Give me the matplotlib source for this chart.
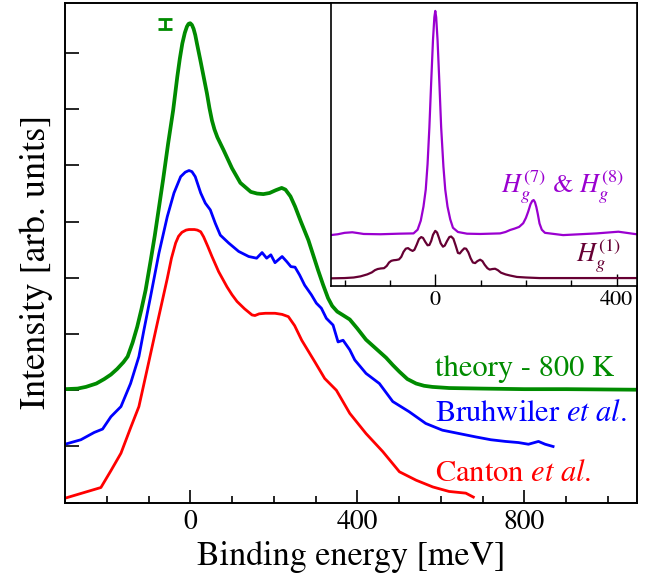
import matplotlib
matplotlib.use("Agg")
import matplotlib.pyplot as plt
from matplotlib.ticker import MultipleLocator, FixedLocator, NullFormatter

plt.rcParams['font.family'] = ['STIXGeneral', 'Liberation Serif', 'DejaVu Serif']
plt.rcParams['mathtext.fontset'] = 'stix'

# ---------------- main panel data (meV, arb. units) ----------------
theory_x = [-300, -270, -250, -225, -206, -190, -175, -160, -150, -138, -127, -117, -107, -95,
            -85, -77, -65, -53, -41, -31, -25, -19, -13, -8, -4, 0, 4, 8, 12, 16, 24, 32, 40,
            46, 52, 58, 65, 80, 100, 120, 145, 160, 175, 190, 205, 219, 228, 240, 251, 265,
            283, 306, 318, 330, 340, 352, 365, 382, 400, 421, 445, 469, 485, 501, 520, 541,
            560, 580, 620, 700, 800, 900, 1070]
theory_y = [2.02, 2.03, 2.06, 2.12, 2.20, 2.28, 2.38, 2.50, 2.60, 2.85, 3.13, 3.44, 3.78, 4.30,
            4.75, 5.15, 5.75, 6.39, 6.98, 7.58, 7.90, 8.17, 8.36, 8.47, 8.52, 8.53, 8.50, 8.43,
            8.32, 8.17, 7.88, 7.58, 7.28, 7.02, 6.80, 6.64, 6.50, 6.27, 5.95, 5.69, 5.53, 5.50,
            5.49, 5.51, 5.56, 5.60, 5.57, 5.45, 5.27, 5.00, 4.67, 4.14, 3.88, 3.64, 3.50, 3.40,
            3.34, 3.26, 3.10, 2.90, 2.74, 2.58, 2.45, 2.33, 2.20, 2.12, 2.08, 2.06, 2.04, 2.03,
            2.02, 2.02, 2.01]

bruh_x = [-300, -262, -230, -210, -190, -166, -143, -123, -111, -95, -75, -55, -39, -23, -12,
          -3, 4, 12, 25, 36, 48, 60, 72, 92, 116, 140, 159, 172, 183, 193, 203, 220, 231, 241,
          251, 262, 274, 290, 302, 314, 326, 342, 354, 366, 382, 394, 421, 453, 485, 524, 564,
          604, 644, 684, 720, 755, 786, 810, 834, 850, 869]
bruh_y = [1.04, 1.12, 1.25, 1.31, 1.53, 1.71, 2.12, 2.60, 3.07, 3.67, 4.44, 5.09, 5.51, 5.80,
          5.88, 5.91, 5.89, 5.80, 5.51, 5.33, 5.21, 4.97, 4.76, 4.62, 4.47, 4.38, 4.35, 4.45,
          4.35, 4.41, 4.27, 4.38, 4.29, 4.20, 4.19, 4.05, 3.87, 3.70, 3.55, 3.46, 3.28, 3.16,
          2.86, 2.89, 2.72, 2.54, 2.30, 2.12, 1.80, 1.62, 1.41, 1.29, 1.23, 1.17, 1.12, 1.09,
          1.07, 1.04, 1.09, 1.04, 1.00]

canton_x = [-300, -214, -190, -166, -143, -123, -103, -79, -55, -45, -35, -28, -20, -10, -3,
            10, 17, 25, 32, 42, 52, 68, 88, 100, 112, 130, 148, 155, 165, 180, 203, 220, 235,
            250, 267, 298, 322, 350, 382, 421, 461, 501, 541, 581, 620, 660, 678]
canton_y = [0.08, 0.27, 0.57, 0.88, 1.33, 1.71, 2.38, 3.19, 3.99, 4.35, 4.62, 4.74, 4.81, 4.85,
            4.86, 4.86, 4.85, 4.82, 4.73, 4.56, 4.38, 4.11, 3.84, 3.70, 3.58, 3.45, 3.34, 3.33,
            3.36, 3.37, 3.37, 3.35, 3.31, 3.15, 2.89, 2.51, 2.21, 2.00, 1.59, 1.23, 0.91, 0.55,
            0.40, 0.28, 0.20, 0.17, 0.10]

# resolution marker
res_x = [-60]
res_y = [8.51]
res_err = [0.09]

# ---------------- inset data ----------------
hg78_x = [-231, -215, -200, -183, -170, -158, -121, -80, -48, -39, -32, -26, -21, -17, -13,
          -9, -5, -2, 0, 2, 5, 9, 13, 18, 22, 27, 33, 39, 50, 70, 99, 143, 155, 165, 175,
          185, 194, 200, 205, 210, 214, 217, 220, 223, 226, 230, 235, 242, 282, 356, 404, 444]
hg78_y = [1.79, 1.82, 1.87, 1.89, 1.86, 1.83, 1.82, 1.84, 1.85, 1.98, 2.30, 2.80, 3.40, 4.30,
          5.60, 7.20, 8.70, 9.50, 9.72, 9.50, 8.70, 7.20, 5.60, 4.21, 3.40, 2.80, 2.35, 2.05,
          1.90, 1.84, 1.83, 1.85, 1.90, 1.97, 2.02, 2.08, 2.21, 2.40, 2.62, 2.88, 3.00, 3.03,
          2.95, 2.78, 2.55, 2.20, 1.98, 1.87, 1.79, 1.85, 1.91, 1.82]

hg1_x = [-231, -200, -180, -165, -150, -140, -133, -127, -120, -113, -107, -102, -97, -92,
         -86, -80, -75, -70, -65, -60, -55, -50, -46, -41, -36, -31, -27, -22, -17, -13, -9,
         -5, 0, 4, 8, 12, 17, 21, 26, 31, 35, 40, 45, 50, 54, 59, 64, 68, 73, 78, 83, 88, 93,
         99, 104, 109, 115, 120, 126, 132, 138, 145, 155, 165, 180, 200, 230, 444]
hg1_y = [0.26, 0.27, 0.29, 0.33, 0.40, 0.47, 0.55, 0.59, 0.61, 0.62, 0.70, 0.82, 0.88, 0.90,
         0.91, 0.93, 1.02, 1.20, 1.31, 1.33, 1.27, 1.23, 1.27, 1.45, 1.65, 1.72, 1.69, 1.55,
         1.43, 1.44, 1.58, 1.80, 1.94, 1.88, 1.70, 1.50, 1.38, 1.42, 1.58, 1.72, 1.74, 1.66,
         1.42, 1.16, 1.14, 1.24, 1.32, 1.31, 1.18, 0.97, 0.82, 0.80, 0.87, 0.92, 0.87, 0.74,
         0.62, 0.57, 0.59, 0.60, 0.55, 0.46, 0.40, 0.36, 0.31, 0.29, 0.27, 0.27]

xticks_main = [0, 400, 800]
xticks_inset = [0, 400]

GREEN = '#008b00'
BLUE = '#0000ff'
RED = '#ff0000'
PURPLE = '#9a00d0'
MAROON = '#660033'

fig = plt.figure(figsize=(6.46, 5.75), dpi=100)
ax = fig.add_axes([65/646, 1-502.7/575, (637-65)/646, (502.7-3)/575])

ax.plot(theory_x, theory_y, color=GREEN, lw=2.7, solid_joinstyle='round')
ax.plot(bruh_x, bruh_y, color=BLUE, lw=2.0, solid_joinstyle='round')
ax.plot(canton_x, canton_y, color=RED, lw=2.0, solid_joinstyle='round')
ax.errorbar(res_x, res_y, yerr=res_err, fmt='none', ecolor=GREEN, elinewidth=2,
            capsize=5, capthick=2)

ax.set_xlim(-300, 1070)
ax.set_ylim(0, 8.89)
ax.xaxis.set_major_locator(FixedLocator(xticks_main))
ax.xaxis.set_minor_locator(MultipleLocator(100))
ax.yaxis.set_major_locator(MultipleLocator(1))
ax.yaxis.set_major_formatter(NullFormatter())
ax.tick_params(axis='x', which='major', direction='in', length=9.5, width=1.2,
               labelsize=20, pad=5, top=False)
ax.tick_params(axis='x', which='minor', direction='in', length=5, width=1.2, top=False)
ax.tick_params(axis='y', which='major', direction='in', length=10, width=1.2, right=False)
for s in ax.spines.values():
    s.set_linewidth(1.4)

ax.set_xlabel('Binding energy [meV]', fontsize=24.5)
ax.xaxis.label.set_va('baseline')
ax.xaxis.set_label_coords(0.501, -0.1255)
ax.set_ylabel('Intensity [arb. units]', fontsize=26)
ax.yaxis.label.set_va('baseline')
ax.yaxis.set_label_coords(-0.035, 0.482)

ax.text(0.647, 0.2535, 'theory - 800 K', color=GREEN, fontsize=22,
        transform=ax.transAxes, va='baseline', ha='left')
ax.text(0.647, 0.1635, r'Bruhwiler $\mathit{et\ al.}$', color=BLUE, fontsize=22,
        transform=ax.transAxes, va='baseline', ha='left')
ax.text(0.647, 0.044, r'Canton $\mathit{et\ al.}$', color=RED, fontsize=22,
        transform=ax.transAxes, va='baseline', ha='left')

# ---------------- inset ----------------
axi = fig.add_axes([331/646, 1-285.7/575, (637-331)/646, (285.7-3)/575])
axi.set_facecolor('white')
axi.plot(hg78_x, hg78_y, color=PURPLE, lw=1.6, solid_joinstyle='round')
axi.plot(hg1_x, hg1_y, color=MAROON, lw=1.6, solid_joinstyle='round')
axi.set_xlim(-230, 445)
axi.set_ylim(0, 10)
axi.xaxis.set_major_locator(FixedLocator(xticks_inset))
axi.xaxis.set_minor_locator(MultipleLocator(100))
axi.set_yticks([])
axi.tick_params(axis='x', which='major', direction='in', length=8.5, width=1.0,
                labelsize=16, pad=3)
axi.tick_params(axis='x', which='minor', direction='in', length=4.5, width=1.0)
for s in axi.spines.values():
    s.set_linewidth(1.2)

axi.text(0.555, 0.33, r'$H_g^{(7)}$ & $H_g^{(8)}$', color=PURPLE, fontsize=19,
         transform=axi.transAxes, va='baseline', ha='left')
axi.text(0.80, 0.085, r'$H_g^{(1)}$', color=MAROON, fontsize=19,
         transform=axi.transAxes, va='baseline', ha='left')

fig.savefig('out.png', dpi=100)
